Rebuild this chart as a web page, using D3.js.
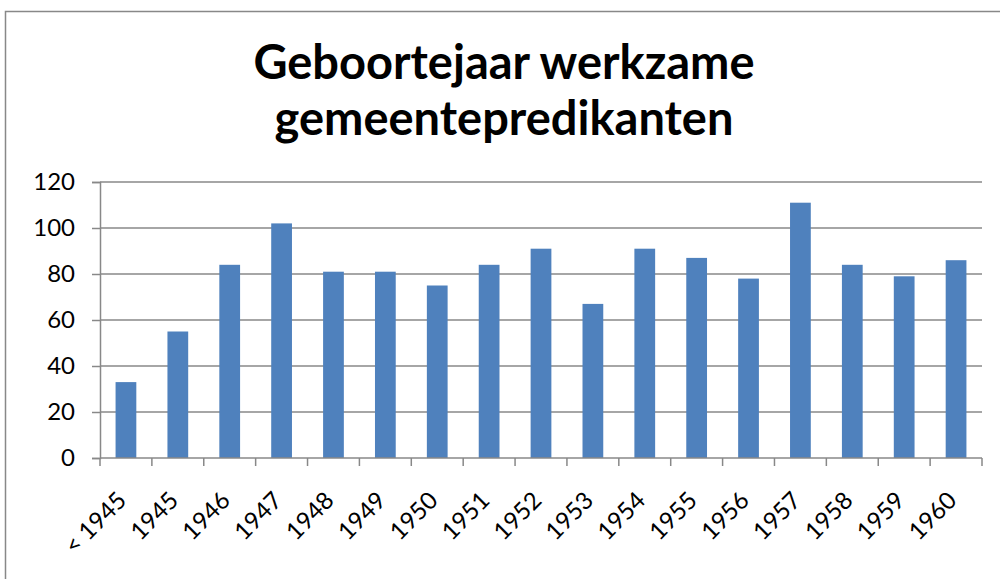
<!DOCTYPE html>
<html>
<head>
<meta charset="utf-8">
<script src="https://cdn.jsdelivr.net/npm/d3@7"></script>
<style>
  body { margin: 0; background: #fff; }
  svg { display: block; font-family: Lato, "Open Sans", sans-serif; }
</style>
</head>
<body>
<div id="chart"></div>
<script>
// Data
var categories = ["< 1945", "1945", "1946", "1947", "1948", "1949", "1950", "1951", "1952",
  "1953", "1954", "1955", "1956", "1957", "1958", "1959", "1960"];
var counts = [33, 55, 84, 102, 81, 81, 75, 84, 91, 67, 91, 87, 78, 111, 84, 79, 86];
var yTicks = [0, 20, 40, 60, 80, 100, 120];
var titleLines = ["Geboortejaar werkzame", "gemeentepredikanten"];

var svgWidth = 1000;
var svgHeight = 579;
var margin = {top: 182, right: 18, bottom: 121, left: 100};
var width = svgWidth - margin.left - margin.right;
var height = svgHeight - margin.top - margin.bottom;

var svg = d3.select("#chart").append("svg")
  .attr("width", svgWidth).attr("height", svgHeight);

// outer chart frame
svg.append("rect")
  .attr("x", 5.5).attr("y", 11.5)
  .attr("width", 1100).attr("height", 700)
  .attr("fill", "#fff").attr("stroke", "#888").attr("stroke-width", 1.5);

// title
svg.append("text")
  .attr("text-anchor", "middle")
  .attr("font-weight", "bold")
  .attr("font-size", "47px")
  .attr("fill", "#000")
  .selectAll("tspan").data(titleLines).enter().append("tspan")
  .attr("x", 504)
  .attr("y", (d, i) => 79 + i * 56)
  .text(d => d);

var chartGroup = svg.append("g")
  .attr("transform", `translate(${margin.left}, ${margin.top})`);

var x = d3.scaleBand().domain(categories).range([0, width]).paddingInner(0.6).paddingOuter(0.3);
var y = d3.scaleLinear().domain([0, 120]).range([height, 0]);

// gridlines
chartGroup.append("g")
  .selectAll("line").data(yTicks.filter(d => d > 0)).enter().append("line")
  .attr("x1", 0).attr("x2", width)
  .attr("y1", d => y(d)).attr("y2", d => y(d))
  .attr("stroke", "#888").attr("stroke-width", 1.5);

// bars
chartGroup.selectAll("rect.bar")
  .data(counts).enter().append("rect")
  .attr("class", "bar")
  .attr("x", (d, i) => x(categories[i]))
  .attr("y", d => y(d))
  .attr("width", x.bandwidth())
  .attr("height", d => height - y(d))
  .attr("fill", "#4F81BD");

// y axis
var yAxis = d3.axisLeft(y).tickValues(yTicks).tickSize(8).tickPadding(17);
var yAxisDraw = chartGroup.append("g").call(yAxis);
yAxisDraw.select(".domain").attr("stroke", "#888").attr("stroke-width", 1.5);
yAxisDraw.selectAll(".tick line").attr("stroke", "#888").attr("stroke-width", 1.5);
yAxisDraw.selectAll("text").attr("font-size", "24px").attr("fill", "#000")
  .attr("font-family", "Lato, sans-serif");

// x axis: ticks sit between categories
var step = width / categories.length;
var xAxisG = chartGroup.append("g").attr("transform", `translate(0, ${height})`);
xAxisG.append("line").attr("x1", 0).attr("x2", width)
  .attr("stroke", "#888").attr("stroke-width", 1.5);
xAxisG.selectAll("line.tk").data(d3.range(categories.length + 1)).enter().append("line")
  .attr("class", "tk")
  .attr("x1", d => d * step).attr("x2", d => d * step)
  .attr("y1", 0).attr("y2", 8)
  .attr("stroke", "#888").attr("stroke-width", 1.5);
xAxisG.selectAll("text").data(categories).enter().append("text")
  .attr("text-anchor", "end")
  .attr("font-size", "24px")
  .attr("fill", "#000")
  .attr("transform", d => `translate(${x(d) + x.bandwidth() / 2 + 2}, 44) rotate(-45)`)
  .text(d => d);
</script>
</body>
</html>
